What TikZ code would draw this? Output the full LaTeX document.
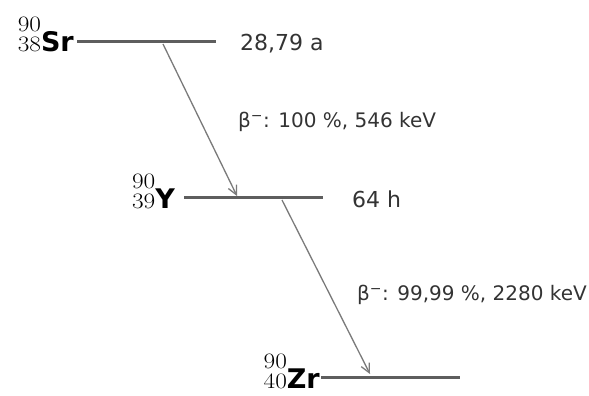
\documentclass[tikz,border=0pt]{standalone}
\usepackage{fontspec}
\setmainfont{DejaVu Sans}
\usetikzlibrary{arrows.meta}
\definecolor{levelgray}{HTML}{5E5E5E}
\definecolor{arrowgray}{HTML}{7A7A7A}
\definecolor{textgray}{HTML}{333333}
\newcommand{\nucl}[3]{\scalebox{1.15}[1]{\usefont{TU}{lmr}{m}{n}\fontsize{22}{20}\selectfont\begin{tabular}[b]{@{}r@{}}#1\\#2\end{tabular}}{\fontsize{27}{27}\selectfont\bfseries #3}}
\tikzset{
  level/.style={line width=3pt, draw=levelgray},
  decay/.style={line width=1.3pt, draw=arrowgray, -{Straight Barb[length=9pt,width=9pt]}},
  val/.style={anchor=west, inner sep=0pt, text=textgray, font=\fontsize{22}{22}\selectfont},
  blab/.style={anchor=west, inner sep=0pt, text=textgray, font=\fontsize{20}{20}\selectfont},
  nuc/.style={anchor=base east, inner sep=0pt, text=black},
}
\begin{document}
\begin{tikzpicture}[x=1pt,y=1pt]
\useasboundingbox (0,0) rectangle (589,396);
% levels
\coordinate (srL) at (77,354); \coordinate (srR) at (216,354);
\coordinate (yL) at (184,198); \coordinate (yR) at (323,198);
\coordinate (zrL) at (321,18); \coordinate (zrR) at (460,18);
\draw[level] (srL) -- (srR);
\draw[level] (yL) -- (yR);
\draw[level] (zrL) -- (zrR);
% nuclide labels
\node[nuc] (sr) at ([xshift=-3pt,yshift=-10pt]srL) {\nucl{90}{38}{Sr}};
\node[nuc] (y) at ([xshift=-9pt,yshift=-11pt]yL) {\nucl{90}{39}{Y}};
\node[nuc] (zr) at ([xshift=-1pt,yshift=-11pt]zrL) {\nucl{90}{40}{Zr}};
% half-lives
\node[val] (t1) at (240,352) {28,79 a};
\node[val] (t2) at (352,197) {64 h};
% decays
\coordinate (a1s) at (163,352); \coordinate (a1e) at (237,200);
\coordinate (a2s) at (282,196); \coordinate (a2e) at (370,22);
\draw[decay] (a1s) -- (a1e);
\draw[decay] (a2s) -- (a2e);
\node[blab] (b1) at (238,274) {β\textsuperscript{−}: 100 \%, 546 keV};
\node[blab] (b2) at (357,101) {β\textsuperscript{−}: 99,99 \%, 2280 keV};
\end{tikzpicture}
\end{document}
